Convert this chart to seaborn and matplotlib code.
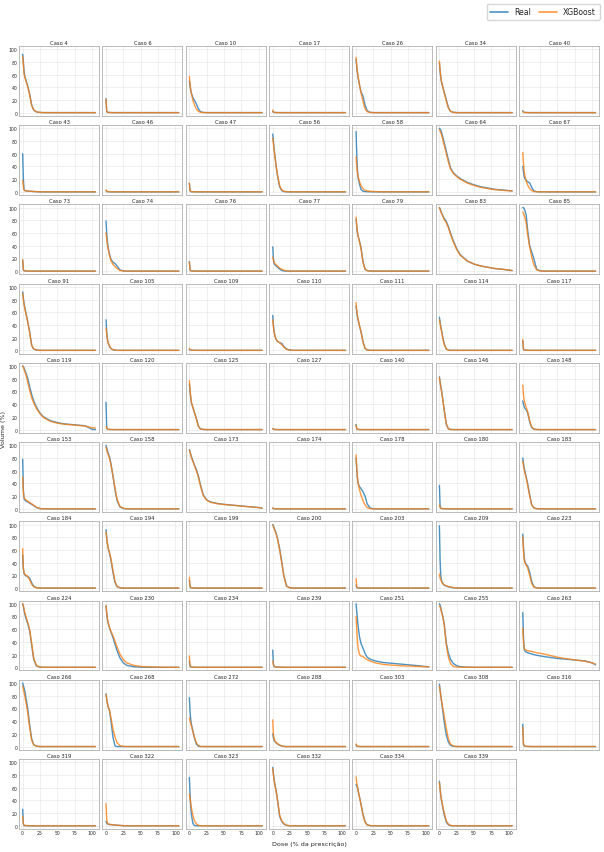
import pandas as pd
import seaborn as sns
import matplotlib.pyplot as plt
from matplotlib.lines import Line2D

# dose grid (% da prescrição) shared by every DVH curve
dose = [0, 1, 2, 3, 5, 7, 10, 13, 16, 20, 25, 30, 40, 50, 60, 70, 80, 90, 100, 105]

cases = [4, 6, 10, 17, 26, 34, 40,
         43, 46, 47, 56, 58, 64, 67,
         73, 74, 76, 77, 79, 83, 85,
         91, 105, 109, 110, 111, 114, 117,
         119, 120, 125, 127, 140, 146, 148,
         153, 158, 173, 174, 178, 180, 183,
         184, 194, 199, 200, 203, 209, 223,
         224, 230, 234, 239, 251, 255, 263,
         266, 268, 272, 288, 303, 308, 316,
         319, 322, 323, 332, 334, 339]

real_vol = [
    [92, 80, 65, 58, 50, 43, 30, 12, 4, 1, 0.3, 0, 0, 0, 0, 0, 0, 0, 0, 0],  # 4
    [22, 2, 0.5, 0.3, 0.2, 0.1, 0, 0, 0, 0, 0, 0, 0, 0, 0, 0, 0, 0, 0, 0],  # 6
    [50, 42, 35, 30, 24, 20, 14, 6, 1.5, 0.3, 0, 0, 0, 0, 0, 0, 0, 0, 0, 0],  # 10
    [2, 0.5, 0.3, 0.2, 0.1, 0, 0, 0, 0, 0, 0, 0, 0, 0, 0, 0, 0, 0, 0, 0],  # 17
    [84, 72, 62, 55, 43, 33, 26, 12, 3, 0.5, 0, 0, 0, 0, 0, 0, 0, 0, 0, 0],  # 26
    [78, 65, 55, 48, 40, 32, 20, 8, 2, 0.5, 0, 0, 0, 0, 0, 0, 0, 0, 0, 0],  # 34
    [3, 1, 0.5, 0.3, 0.2, 0.1, 0, 0, 0, 0, 0, 0, 0, 0, 0, 0, 0, 0, 0, 0],  # 40
    [60, 20, 4, 2, 1.5, 1.2, 1, 0.8, 0.5, 0.3, 0, 0, 0, 0, 0, 0, 0, 0, 0, 0],  # 43
    [2, 0.5, 0.3, 0.2, 0.1, 0, 0, 0, 0, 0, 0, 0, 0, 0, 0, 0, 0, 0, 0, 0],  # 46
    [13, 2, 0.5, 0.3, 0.2, 0.1, 0, 0, 0, 0, 0, 0, 0, 0, 0, 0, 0, 0, 0, 0],  # 47
    [91, 80, 68, 58, 40, 25, 8, 2, 0.5, 0.1, 0, 0, 0, 0, 0, 0, 0, 0, 0, 0],  # 56
    [95, 60, 35, 22, 12, 4, 1, 0.5, 0.3, 0.2, 0, 0, 0, 0, 0, 0, 0, 0, 0, 0],  # 58
    [100, 99, 97, 94, 86, 77, 64, 50, 38, 30, 25, 21, 15, 11, 8, 6, 4, 3, 2, 1.5],  # 64
    [40, 32, 25, 21, 18, 16, 14, 7, 1.5, 0.3, 0, 0, 0, 0, 0, 0, 0, 0, 0, 0],  # 67
    [17, 2, 0.5, 0.3, 0.2, 0.1, 0, 0, 0, 0, 0, 0, 0, 0, 0, 0, 0, 0, 0, 0],  # 73
    [79, 60, 47, 38, 27, 19, 14, 12, 8, 2, 0.3, 0, 0, 0, 0, 0, 0, 0, 0, 0],  # 74
    [15, 2, 0.5, 0.3, 0.2, 0.1, 0, 0, 0, 0, 0, 0, 0, 0, 0, 0, 0, 0, 0, 0],  # 76
    [38, 20, 12, 10, 8, 6, 3, 1, 0.3, 0, 0, 0, 0, 0, 0, 0, 0, 0, 0, 0],  # 77
    [82, 70, 60, 55, 47, 38, 15, 3, 0.8, 0.2, 0, 0, 0, 0, 0, 0, 0, 0, 0, 0],  # 79
    [100, 98, 95, 92, 87, 83, 78, 70, 60, 48, 35, 26, 16, 11, 8, 6, 4, 3, 1.5, 0.8],  # 83
    [100, 100, 98, 96, 88, 65, 40, 30, 20, 3, 0.5, 0, 0, 0, 0, 0, 0, 0, 0, 0],  # 85
    [92, 82, 74, 68, 57, 47, 30, 8, 2, 0.4, 0, 0, 0, 0, 0, 0, 0, 0, 0, 0],  # 91
    [48, 30, 18, 12, 6, 3, 1, 0.3, 0, 0, 0, 0, 0, 0, 0, 0, 0, 0, 0, 0],  # 105
    [2, 0.5, 0.3, 0.2, 0.1, 0, 0, 0, 0, 0, 0, 0, 0, 0, 0, 0, 0, 0, 0, 0],  # 109
    [55, 40, 30, 24, 17, 14, 12, 11, 6, 2, 0.5, 0, 0, 0, 0, 0, 0, 0, 0, 0],  # 110
    [70, 60, 53, 48, 38, 30, 14, 3, 0.5, 0, 0, 0, 0, 0, 0, 0, 0, 0, 0, 0],  # 111
    [52, 45, 38, 32, 20, 10, 2, 0.4, 0, 0, 0, 0, 0, 0, 0, 0, 0, 0, 0, 0],  # 114
    [15, 2, 0.5, 0.3, 0.2, 0.1, 0, 0, 0, 0, 0, 0, 0, 0, 0, 0, 0, 0, 0, 0],  # 117
    [100, 99, 97, 94, 88, 82, 68, 55, 45, 35, 26, 20, 14, 11, 9, 8, 7, 6, 0.5, 0],  # 119
    [43, 3, 0.5, 0.3, 0.2, 0.1, 0, 0, 0, 0, 0, 0, 0, 0, 0, 0, 0, 0, 0, 0],  # 120
    [72, 60, 50, 42, 35, 28, 18, 6, 1, 0.2, 0, 0, 0, 0, 0, 0, 0, 0, 0, 0],  # 125
    [1.5, 0.5, 0.3, 0.2, 0.1, 0, 0, 0, 0, 0, 0, 0, 0, 0, 0, 0, 0, 0, 0, 0],  # 127
    [8, 1, 0.3, 0.2, 0.1, 0, 0, 0, 0, 0, 0, 0, 0, 0, 0, 0, 0, 0, 0, 0],  # 140
    [83, 75, 68, 62, 47, 30, 8, 1, 0.2, 0, 0, 0, 0, 0, 0, 0, 0, 0, 0, 0],  # 146
    [45, 40, 36, 34, 31, 27, 12, 3, 0.5, 0, 0, 0, 0, 0, 0, 0, 0, 0, 0, 0],  # 148
    [78, 30, 16, 14, 12, 11, 9, 7, 5, 2, 0.3, 0, 0, 0, 0, 0, 0, 0, 0, 0],  # 153
    [100, 96, 92, 88, 82, 72, 52, 30, 13, 3, 0.5, 0, 0, 0, 0, 0, 0, 0, 0, 0],  # 158
    [93, 90, 86, 82, 76, 70, 62, 52, 38, 22, 14, 11, 8.5, 7, 6, 5, 4, 3, 2, 1],  # 173
    [1, 0.3, 0.2, 0.1, 0, 0, 0, 0, 0, 0, 0, 0, 0, 0, 0, 0, 0, 0, 0, 0],  # 174
    [80, 62, 48, 40, 35, 32, 27, 20, 8, 1.5, 0.2, 0, 0, 0, 0, 0, 0, 0, 0, 0],  # 178
    [37, 5, 1, 0.5, 0.3, 0.2, 0.1, 0, 0, 0, 0, 0, 0, 0, 0, 0, 0, 0, 0, 0],  # 180
    [80, 72, 65, 60, 50, 40, 22, 6, 1.5, 0.3, 0, 0, 0, 0, 0, 0, 0, 0, 0, 0],  # 183
    [52, 30, 23, 21, 19, 18, 16, 8, 3, 0.5, 0, 0, 0, 0, 0, 0, 0, 0, 0, 0],  # 184
    [92, 80, 70, 63, 55, 45, 25, 9, 2, 0.4, 0, 0, 0, 0, 0, 0, 0, 0, 0, 0],  # 194
    [12, 2, 0.5, 0.3, 0.2, 0.1, 0, 0, 0, 0, 0, 0, 0, 0, 0, 0, 0, 0, 0, 0],  # 199
    [100, 98, 95, 92, 86, 78, 62, 42, 20, 3, 0.3, 0, 0, 0, 0, 0, 0, 0, 0, 0],  # 200
    [5, 1, 0.3, 0.2, 0.1, 0, 0, 0, 0, 0, 0, 0, 0, 0, 0, 0, 0, 0, 0, 0],  # 203
    [98, 45, 20, 12, 7, 4.5, 3, 2, 1.2, 0.6, 0.2, 0, 0, 0, 0, 0, 0, 0, 0, 0],  # 209
    [85, 65, 50, 42, 37, 35, 25, 10, 2, 0.4, 0, 0, 0, 0, 0, 0, 0, 0, 0, 0],  # 223
    [100, 96, 90, 84, 76, 70, 58, 35, 12, 2, 0.3, 0, 0, 0, 0, 0, 0, 0, 0, 0],  # 224
    [97, 85, 76, 70, 62, 56, 47, 36, 26, 15, 7, 3, 1, 0.3, 0, 0, 0, 0, 0, 0],  # 230
    [10, 1.5, 0.5, 0.3, 0.2, 0.1, 0, 0, 0, 0, 0, 0, 0, 0, 0, 0, 0, 0, 0, 0],  # 234
    [27, 5, 1.5, 0.8, 0.5, 0.3, 0.2, 0.1, 0, 0, 0, 0, 0, 0, 0, 0, 0, 0, 0, 0],  # 239
    [100, 88, 76, 64, 48, 38, 30, 22, 16, 13, 11, 9.5, 7.5, 6.5, 5.5, 4.5, 3.5, 2.5, 1.2, 0.8],  # 251
    [100, 98, 94, 88, 80, 68, 38, 22, 13, 6, 2.5, 1, 0.2, 0, 0, 0, 0, 0, 0, 0],  # 255
    [86, 50, 30, 26, 24, 23, 22, 21, 20, 19, 18, 17, 15.5, 14, 13, 12, 11, 10, 7, 4],  # 263
    [100, 96, 92, 88, 75, 62, 35, 12, 3, 0.5, 0, 0, 0, 0, 0, 0, 0, 0, 0, 0],  # 266
    [83, 75, 68, 63, 57, 42, 15, 1, 0, 0, 0, 0, 0, 0, 0, 0, 0, 0, 0, 0],  # 268
    [77, 55, 42, 35, 25, 15, 4, 0.5, 0, 0, 0, 0, 0, 0, 0, 0, 0, 0, 0, 0],  # 272
    [20, 14, 10, 8, 6, 4, 2, 0.8, 0.2, 0, 0, 0, 0, 0, 0, 0, 0, 0, 0, 0],  # 288
    [3, 0.5, 0.3, 0.2, 0.1, 0, 0, 0, 0, 0, 0, 0, 0, 0, 0, 0, 0, 0, 0, 0],  # 303
    [98, 90, 80, 72, 55, 38, 18, 7, 2, 0.3, 0, 0, 0, 0, 0, 0, 0, 0, 0, 0],  # 308
    [35, 3, 1, 0.5, 0.3, 0.2, 0.1, 0, 0, 0, 0, 0, 0, 0, 0, 0, 0, 0, 0, 0],  # 316
    [26, 3, 0.5, 0.3, 0.2, 0.1, 0, 0, 0, 0, 0, 0, 0, 0, 0, 0, 0, 0, 0, 0],  # 319
    [7, 4, 3, 2.5, 2, 1.8, 1.5, 1.2, 1, 0.6, 0.2, 0, 0, 0, 0, 0, 0, 0, 0, 0],  # 322
    [76, 50, 30, 18, 4, 0.5, 0, 0, 0, 0, 0, 0, 0, 0, 0, 0, 0, 0, 0, 0],  # 323
    [92, 82, 73, 66, 55, 40, 15, 7, 3, 0.5, 0, 0, 0, 0, 0, 0, 0, 0, 0, 0],  # 332
    [65, 63, 60, 55, 45, 35, 18, 6, 1.5, 0.3, 0, 0, 0, 0, 0, 0, 0, 0, 0, 0],  # 334
    [70, 58, 48, 40, 28, 17, 6, 1.5, 0.3, 0, 0, 0, 0, 0, 0, 0, 0, 0, 0, 0],  # 339
]

xgb_vol = [
    [88, 75, 62, 56, 49, 42, 28, 11, 4, 1.2, 0.4, 0, 0, 0, 0, 0, 0, 0, 0, 0],  # 4
    [21, 3, 0.8, 0.4, 0.2, 0.1, 0, 0, 0, 0, 0, 0, 0, 0, 0, 0, 0, 0, 0, 0],  # 6
    [57, 45, 36, 30, 20, 13, 6, 2, 0.5, 0.1, 0, 0, 0, 0, 0, 0, 0, 0, 0, 0],  # 10
    [4, 1, 0.5, 0.3, 0.2, 0.1, 0, 0, 0, 0, 0, 0, 0, 0, 0, 0, 0, 0, 0, 0],  # 17
    [87, 75, 64, 56, 44, 32, 18, 6, 1.5, 0.3, 0, 0, 0, 0, 0, 0, 0, 0, 0, 0],  # 26
    [81, 67, 56, 49, 40, 31, 18, 7, 2, 0.5, 0, 0, 0, 0, 0, 0, 0, 0, 0, 0],  # 34
    [2, 0.5, 0.3, 0.2, 0.1, 0, 0, 0, 0, 0, 0, 0, 0, 0, 0, 0, 0, 0, 0, 0],  # 40
    [18, 8, 3, 2, 1.5, 1.2, 1, 0.8, 0.5, 0.3, 0, 0, 0, 0, 0, 0, 0, 0, 0, 0],  # 43
    [3, 1, 0.5, 0.3, 0.2, 0.1, 0, 0, 0, 0, 0, 0, 0, 0, 0, 0, 0, 0, 0, 0],  # 46
    [14, 2, 0.5, 0.3, 0.2, 0.1, 0, 0, 0, 0, 0, 0, 0, 0, 0, 0, 0, 0, 0, 0],  # 47
    [85, 76, 66, 57, 40, 26, 10, 3, 1, 0.2, 0, 0, 0, 0, 0, 0, 0, 0, 0, 0],  # 56
    [55, 40, 30, 24, 16, 10, 5, 2.5, 1.5, 1, 0.5, 0.3, 0, 0, 0, 0, 0, 0, 0, 0],  # 58
    [98, 96, 93, 90, 82, 73, 60, 47, 36, 29, 24, 20, 14, 10, 7, 5, 3.5, 2.5, 1.8, 1.2],  # 64
    [62, 45, 33, 26, 17, 11, 5, 2, 0.5, 0.1, 0, 0, 0, 0, 0, 0, 0, 0, 0, 0],  # 67
    [18, 3, 1, 0.5, 0.3, 0.1, 0, 0, 0, 0, 0, 0, 0, 0, 0, 0, 0, 0, 0, 0],  # 73
    [60, 50, 42, 35, 25, 17, 11, 7, 4, 1, 0.2, 0, 0, 0, 0, 0, 0, 0, 0, 0],  # 74
    [14, 2, 0.5, 0.3, 0.2, 0.1, 0, 0, 0, 0, 0, 0, 0, 0, 0, 0, 0, 0, 0, 0],  # 76
    [22, 17, 14, 12, 10, 8, 5, 3, 1.5, 0.5, 0, 0, 0, 0, 0, 0, 0, 0, 0, 0],  # 77
    [85, 72, 62, 55, 46, 36, 14, 3, 0.8, 0.2, 0, 0, 0, 0, 0, 0, 0, 0, 0, 0],  # 79
    [100, 97, 94, 91, 86, 81, 76, 68, 58, 46, 34, 25, 16, 11, 8, 6, 4, 3, 1.8, 1],  # 83
    [93, 91, 88, 85, 75, 58, 38, 22, 10, 2, 0.3, 0, 0, 0, 0, 0, 0, 0, 0, 0],  # 85
    [90, 80, 72, 66, 56, 46, 28, 8, 2, 0.5, 0, 0, 0, 0, 0, 0, 0, 0, 0, 0],  # 91
    [35, 25, 18, 12, 7, 3, 1, 0.3, 0, 0, 0, 0, 0, 0, 0, 0, 0, 0, 0, 0],  # 105
    [3, 1, 0.5, 0.3, 0.2, 0.1, 0, 0, 0, 0, 0, 0, 0, 0, 0, 0, 0, 0, 0, 0],  # 109
    [48, 37, 29, 23, 17, 14, 12, 9, 5, 1.5, 0.3, 0, 0, 0, 0, 0, 0, 0, 0, 0],  # 110
    [75, 63, 55, 49, 39, 30, 13, 3, 0.6, 0.1, 0, 0, 0, 0, 0, 0, 0, 0, 0, 0],  # 111
    [48, 42, 36, 30, 18, 9, 2, 0.4, 0, 0, 0, 0, 0, 0, 0, 0, 0, 0, 0, 0],  # 114
    [17, 3, 1, 0.5, 0.3, 0.1, 0, 0, 0, 0, 0, 0, 0, 0, 0, 0, 0, 0, 0, 0],  # 117
    [100, 98, 95, 92, 85, 76, 62, 50, 42, 33, 25, 19, 13, 10, 8.5, 7.5, 6.5, 5.5, 3, 2.5],  # 119
    [5, 2, 1, 0.5, 0.3, 0.1, 0, 0, 0, 0, 0, 0, 0, 0, 0, 0, 0, 0, 0, 0],  # 120
    [77, 63, 52, 43, 35, 28, 17, 5, 1, 0.2, 0, 0, 0, 0, 0, 0, 0, 0, 0, 0],  # 125
    [2, 0.8, 0.4, 0.2, 0.1, 0, 0, 0, 0, 0, 0, 0, 0, 0, 0, 0, 0, 0, 0, 0],  # 127
    [7, 1.5, 0.5, 0.3, 0.1, 0, 0, 0, 0, 0, 0, 0, 0, 0, 0, 0, 0, 0, 0, 0],  # 140
    [82, 74, 67, 61, 46, 30, 9, 1.5, 0.3, 0, 0, 0, 0, 0, 0, 0, 0, 0, 0, 0],  # 146
    [70, 55, 47, 42, 35, 28, 14, 4, 1, 0.2, 0, 0, 0, 0, 0, 0, 0, 0, 0, 0],  # 148
    [50, 25, 18, 16, 14, 12, 10, 8, 5.5, 2.5, 0.5, 0, 0, 0, 0, 0, 0, 0, 0, 0],  # 153
    [97, 93, 89, 86, 79, 70, 52, 32, 15, 4, 0.8, 0, 0, 0, 0, 0, 0, 0, 0, 0],  # 158
    [92, 89, 85, 81, 75, 69, 60, 50, 36, 21, 13.5, 10.5, 8, 6.8, 5.8, 4.8, 3.8, 2.8, 2, 1.2],  # 173
    [1.5, 0.5, 0.3, 0.1, 0, 0, 0, 0, 0, 0, 0, 0, 0, 0, 0, 0, 0, 0, 0, 0],  # 174
    [85, 65, 50, 40, 30, 22, 13, 6, 2, 0.4, 0, 0, 0, 0, 0, 0, 0, 0, 0, 0],  # 178
    [6, 2, 1, 0.5, 0.3, 0.2, 0.1, 0, 0, 0, 0, 0, 0, 0, 0, 0, 0, 0, 0, 0],  # 180
    [75, 68, 62, 57, 48, 38, 20, 6, 1.5, 0.3, 0, 0, 0, 0, 0, 0, 0, 0, 0, 0],  # 183
    [62, 32, 24, 22, 20, 19, 13, 6, 2, 0.4, 0, 0, 0, 0, 0, 0, 0, 0, 0, 0],  # 184
    [88, 78, 70, 64, 56, 47, 28, 10, 2.5, 0.5, 0, 0, 0, 0, 0, 0, 0, 0, 0, 0],  # 194
    [17, 3, 1, 0.5, 0.3, 0.1, 0, 0, 0, 0, 0, 0, 0, 0, 0, 0, 0, 0, 0, 0],  # 199
    [99, 97, 94, 91, 85, 77, 60, 40, 19, 3, 0.3, 0, 0, 0, 0, 0, 0, 0, 0, 0],  # 200
    [15, 2, 0.8, 0.4, 0.2, 0.1, 0, 0, 0, 0, 0, 0, 0, 0, 0, 0, 0, 0, 0, 0],  # 203
    [22, 16, 13, 10, 7, 5, 3.5, 2.5, 1.5, 0.8, 0.3, 0, 0, 0, 0, 0, 0, 0, 0, 0],  # 209
    [80, 60, 46, 40, 36, 32, 20, 7, 1.5, 0.3, 0, 0, 0, 0, 0, 0, 0, 0, 0, 0],  # 223
    [100, 97, 92, 86, 79, 72, 60, 38, 14, 2.5, 0.5, 0, 0, 0, 0, 0, 0, 0, 0, 0],  # 224
    [97, 86, 77, 71, 63, 57, 50, 41, 32, 21, 12, 7, 3, 1.5, 0.8, 0.4, 0.2, 0, 0, 0],  # 230
    [18, 3, 1, 0.5, 0.3, 0.1, 0, 0, 0, 0, 0, 0, 0, 0, 0, 0, 0, 0, 0, 0],  # 234
    [10, 4, 2, 1, 0.5, 0.3, 0.2, 0.1, 0, 0, 0, 0, 0, 0, 0, 0, 0, 0, 0, 0],  # 239
    [80, 60, 42, 30, 20, 18, 17, 14, 12, 10, 8, 6.5, 4.5, 3.5, 2.8, 2.2, 1.8, 1.4, 1, 0.8],  # 251
    [97, 95, 92, 87, 79, 66, 35, 16, 6, 1.5, 0.3, 0, 0, 0, 0, 0, 0, 0, 0, 0],  # 255
    [62, 40, 30, 28, 27, 26, 25.5, 25, 24, 23, 22, 21, 18.5, 16, 14, 12.5, 11, 9.5, 7, 5],  # 263
    [95, 90, 85, 80, 68, 55, 30, 10, 2.5, 0.5, 0, 0, 0, 0, 0, 0, 0, 0, 0, 0],  # 266
    [82, 74, 68, 63, 57, 46, 28, 15, 6, 1.5, 0.3, 0, 0, 0, 0, 0, 0, 0, 0, 0],  # 268
    [45, 40, 36, 32, 24, 16, 6, 1.5, 0.3, 0, 0, 0, 0, 0, 0, 0, 0, 0, 0, 0],  # 272
    [42, 20, 12, 9, 6.5, 4.5, 2.5, 1, 0.3, 0, 0, 0, 0, 0, 0, 0, 0, 0, 0, 0],  # 288
    [4, 1, 0.5, 0.3, 0.1, 0, 0, 0, 0, 0, 0, 0, 0, 0, 0, 0, 0, 0, 0, 0],  # 303
    [95, 88, 80, 73, 60, 48, 28, 12, 4, 0.8, 0.1, 0, 0, 0, 0, 0, 0, 0, 0, 0],  # 308
    [30, 5, 1.5, 0.8, 0.4, 0.2, 0.1, 0, 0, 0, 0, 0, 0, 0, 0, 0, 0, 0, 0, 0],  # 316
    [15, 3, 1, 0.5, 0.3, 0.1, 0, 0, 0, 0, 0, 0, 0, 0, 0, 0, 0, 0, 0, 0],  # 319
    [35, 10, 4, 3, 2.5, 2, 1.5, 1.2, 0.8, 0.5, 0.2, 0, 0, 0, 0, 0, 0, 0, 0, 0],  # 322
    [50, 42, 35, 28, 17, 9, 3, 0.8, 0.2, 0, 0, 0, 0, 0, 0, 0, 0, 0, 0, 0],  # 323
    [90, 80, 72, 65, 54, 40, 17, 8, 3.5, 0.8, 0.1, 0, 0, 0, 0, 0, 0, 0, 0, 0],  # 332
    [77, 68, 62, 56, 45, 34, 17, 6, 1.5, 0.3, 0, 0, 0, 0, 0, 0, 0, 0, 0, 0],  # 334
    [68, 57, 48, 41, 30, 20, 8, 2.5, 0.6, 0.1, 0, 0, 0, 0, 0, 0, 0, 0, 0, 0],  # 339
]

# long table for seaborn
rows = []
for case, rv, xv in zip(cases, real_vol, xgb_vol):
    for d, r, x in zip(dose, rv, xv):
        rows.append((case, d, r, "Real"))
        rows.append((case, d, x, "XGBoost"))
df = pd.DataFrame(rows, columns=["caso", "dose", "volume", "modelo"])

sns.set_theme(style="whitegrid")
plt.rcParams["font.family"] = ["DejaVu Sans"]

palette = {"Real": "#1f77b4", "XGBoost": "#ff7f0e"}

fig, axes = plt.subplots(10, 7, figsize=(6.04, 8.53), dpi=100, sharex=True, sharey=True)
fig.subplots_adjust(left=0.0315, right=0.992, top=0.945, bottom=0.027,
                    wspace=0.041, hspace=0.134)

for ax, case in zip(axes.flat, cases):
    sub = df[df["caso"] == case]
    sns.lineplot(data=sub, x="dose", y="volume", hue="modelo", palette=palette,
                 ax=ax, legend=False, linewidth=1.0, alpha=0.8)
    ax.set_title(f"Caso {case}", fontsize=3.8, pad=1.5)
    ax.set_xlabel("")
    ax.set_ylabel("")
    ax.set_xticks([0, 25, 50, 75, 100])
    ax.set_yticks([0, 20, 40, 60, 80, 100])
    ax.tick_params(labelsize=3.3, pad=1, length=0)
    ax.grid(True, linewidth=0.4, color="#e3e3e3")
    for s in ax.spines.values():
        s.set_linewidth(0.6)
        s.set_edgecolor("#b0b0b0")

axes.flat[-1].remove()

handles = [Line2D([0], [0], color=palette["Real"], lw=1.2, alpha=0.8),
           Line2D([0], [0], color=palette["XGBoost"], lw=1.2, alpha=0.8)]
fig.legend(handles, ["Real", "XGBoost"], loc="upper right",
           bbox_to_anchor=(0.999, 0.999), ncol=2, fontsize=5.6,
           handlelength=2.3, columnspacing=1.0, borderpad=0.45, frameon=True)

fig.text(0.513, 0.0094, "Dose (% da prescrição)", ha="center", va="center", fontsize=4.6)
fig.text(0.005, 0.496, "Volume (%)", ha="center", va="center", rotation=90, fontsize=4.6)

plt.savefig("out.png", dpi=100)
